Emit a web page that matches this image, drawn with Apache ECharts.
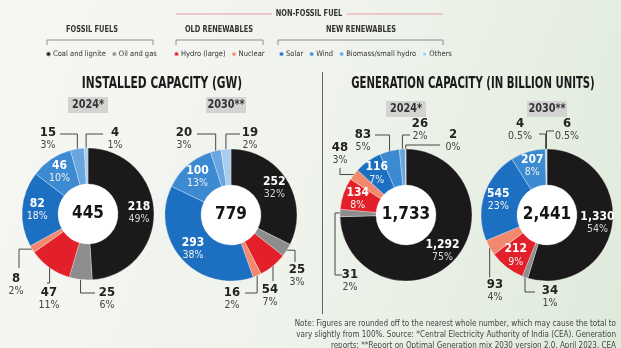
<!DOCTYPE html>
<html>
<head>
<meta charset="utf-8">
<script src="https://cdn.jsdelivr.net/npm/echarts@6/dist/echarts.min.js"></script>
<style>
    html, body { margin: 0; padding: 0; }
    #chart { width: 621px; height: 348px; background: linear-gradient(110deg, #f7f7f4 0%, #eff3ec 50%, #dfeadb 100%); }
</style>
</head>
<body>
<div id="chart"></div>
<script>
    // categories, in clockwise order from 12 o'clock
    const categories = ['Coal and lignite', 'Oil and gas', 'Hydro (large)', 'Nuclear', 'Solar', 'Wind', 'Biomass/small hydro', 'Others'];

    const installed2024 = [218, 25, 47, 8, 82, 46, 15, 4];
    const installed2024Pct = ['49%', '6%', '11%', '2%', '18%', '10%', '3%', '1%'];
    const installed2030 = [252, 25, 54, 16, 293, 100, 20, 19];
    const installed2030Pct = ['32%', '3%', '7%', '2%', '38%', '13%', '3%', '2%'];
    const generation2024 = [1292, 31, 134, 48, 116, 83, 26, 2];
    const generation2024Pct = ['75%', '2%', '8%', '3%', '7%', '5%', '2%', '0%'];
    const generation2030 = [1330, 34, 212, 93, 545, 207, 4, 6];
    const generation2030Pct = ['54%', '1%', '9%', '4%', '23%', '8%', '0.5%', '0.5%'];

    const totals = ['445', '779', '1,733', '2,441'];
    const years = ['2024*', '2030**', '2024*', '2030**'];

    const colors = ['#1b1919', '#8d8d8d', '#e3202a', '#f2896f', '#1d6fc2', '#3b8ad2', '#69a6df', '#a9cdee'];
    const F = "'DejaVu Sans Condensed',sans-serif";

    // where the small segments put their labels (relative to the donut centre)
    // l = label centre, e = end of leader, r = route of the leader
    const spots = [
        {
            1: {l: [19, 85], e: [7, 79], r: 'vh'},
            2: {l: [-39, 85], e: [-41, 69], r: 'vh'},
            3: {l: [-72, 71], e: [-69, 54], r: 'hv'},
            6: {l: [-40, -75], e: [-28, -80], r: 'vh'},
            7: {l: [27, -75], e: [15, -80], r: 'vh'}
        },
        {
            1: {l: [66, 61], e: [64, 47], r: 'hv'},
            2: {l: [39, 81], e: [42, 66], r: 'vh'},
            3: {l: [1, 84], e: [14, 78], r: 'vh'},
            6: {l: [-47, -76], e: [-34, -81], r: 'vh'},
            7: {l: [19, -76], e: [9, -81], r: 'vh'}
        },
        {
            1: {l: [-56, 66], e: [-64, 60], r: 'hvh', k: -71},
            3: {l: [-66, -61], e: [-66, -47], r: 'hv'},
            5: {l: [-43, -74], e: [-31, -80], r: 'vh'},
            6: {l: [14, -85], e: [4, -80], r: 'vh'},
            7: {l: [47, -74], e: [34, -70], r: 'vh'}
        },
        {
            1: {l: [3, 82], e: [-12, 77], r: 'vh'},
            3: {l: [-52, 76], e: [-57, 62], r: 'vh'},
            6: {l: [-27, -85], e: [-8, -81], r: 'vh'},
            7: {l: [20, -85], e: [7, -84], r: 'vh'}
        }
    ];

    const centers = [[88, 214], [231, 215], [406, 215], [547, 215]];
    const values = [installed2024, installed2030, generation2024, generation2030];
    const pcts = [installed2024Pct, installed2030Pct, generation2024Pct, generation2030Pct];

    function makeLayout (center, spot) {
        return function (params) {
            const s = spot[params.dataIndex];
            if (!s || !params.labelLinePoints) {
                return {};
            }
            const a = params.labelLinePoints[0];
            const end = [center[0] + s.e[0], center[1] + s.e[1]];
            let pts;
            if (s.r === 'vh') {
                pts = [a, [a[0], end[1]], end];
            } else if (s.r === 'hv') {
                pts = [a, [end[0], a[1]], end];
            } else {
                pts = [a, [center[0] + s.k, a[1]], [center[0] + s.k, end[1]], end];
            }
            return {
                x: center[0] + s.l[0],
                y: center[1] + s.l[1],
                align: 'center',
                verticalAlign: 'middle',
                labelLinePoints: pts
            };
        };
    }

    const series = [];
    const graphics = [];

    centers.forEach(function (c, k) {
        // white hole + total
        series.push({
            type: 'pie',
            center: c,
            radius: [0, 31],
            silent: true,
            z: 1,
            label: {
                show: true,
                position: 'center',
                formatter: totals[k],
                fontFamily: F,
                fontWeight: 'bold',
                fontSize: 17,
                color: '#151515'
            },
            labelLine: {show: false},
            emphasis: {disabled: true},
            data: [{value: 1, name: 'total' + k, itemStyle: {color: '#ffffff'}}]
        });

        const data = categories.map(function (name, i) {
            const outside = !!spots[k][i];
            return {
                name: name,
                value: values[k][i],
                itemStyle: {color: colors[i]},
                label: {
                    position: outside ? 'outside' : 'inside',
                    formatter: '{v|' + values[k][i].toLocaleString('en-US') + '}\n{p|' + pcts[k][i] + '}',
                    rich: outside ? {
                        v: {fontFamily: F, fontWeight: 'bold', fontSize: 13, color: '#222', lineHeight: 12, align: 'center'},
                        p: {fontFamily: F, fontSize: 10.5, color: '#444', lineHeight: 12, align: 'center'}
                    } : {
                        v: {fontFamily: F, fontWeight: 'bold', fontSize: 12, color: '#ffffff', lineHeight: 13, align: 'center'},
                        p: {fontFamily: F, fontSize: 10.5, color: i === 0 ? '#d8d8d8' : '#f0f0f0', lineHeight: 12, align: 'center'}
                    }
                },
                labelLine: {show: outside}
            };
        });

        series.push({
            type: 'pie',
            center: c,
            radius: [30, 66],
            startAngle: 90,
            clockwise: true,
            avoidLabelOverlap: false,
            silent: true,
            z: 2,
            itemStyle: {borderColor: 'rgba(255,255,255,0.6)', borderWidth: 0.5},
            label: {show: true},
            labelLine: {show: true, length: 4, length2: 4, lineStyle: {color: '#333', width: 0.9}},
            labelLayout: makeLayout(c, spots[k]),
            data: data
        });

        // year tag
        const tagY = k < 2 ? 97 : 101;
        const tagX = c[0] - (k === 1 ? 5 : 0);
        graphics.push({
            type: 'rect',
            shape: {x: tagX - 20, y: tagY, width: 40, height: 16},
            style: {fill: '#d3d3d1'}
        });
        graphics.push({
            type: 'text',
            x: tagX,
            y: tagY + 8,
            scaleX: 0.9,
            style: {text: years[k], fontFamily: F, fontWeight: 'bold', fontSize: 12, fill: '#333', align: 'center', verticalAlign: 'middle'}
        });
    });

    // header
    const headTexts = [
        ['NON-FOSSIL FUEL', 309, 14],
        ['FOSSIL FUELS', 92, 30],
        ['OLD RENEWABLES', 219, 30],
        ['NEW RENEWABLES', 361, 30]
    ];
    headTexts.forEach(function (h) {
        graphics.push({
            type: 'text', x: h[1], y: h[2], scaleX: 0.82,
            style: {text: h[0], fontFamily: F, fontWeight: 'bold', fontSize: 9, fill: '#333', align: 'center', verticalAlign: 'middle'}
        });
    });
    graphics.push({type: 'line', shape: {x1: 176, y1: 14, x2: 272, y2: 14}, style: {stroke: '#e59ba4', lineWidth: 1}});
    graphics.push({type: 'line', shape: {x1: 347, y1: 14, x2: 443, y2: 14}, style: {stroke: '#e59ba4', lineWidth: 1}});
    [[47, 153], [176, 263], [278, 443]].forEach(function (b) {
        graphics.push({
            type: 'polyline',
            shape: {points: [[b[0], 45], [b[0], 40], [b[1], 40], [b[1], 45]]},
            style: {stroke: '#777', lineWidth: 0.8, fill: null}
        });
    });

    // titles
    graphics.push({
        type: 'text', x: 162, y: 84, scaleX: 0.79,
        style: {text: 'INSTALLED CAPACITY (GW)', fontFamily: F, fontWeight: 'bold', fontSize: 15, fill: '#1a1a1a', align: 'center', verticalAlign: 'middle'}
    });
    graphics.push({
        type: 'text', x: 473, y: 84, scaleX: 0.75,
        style: {text: 'GENERATION CAPACITY (IN BILLION UNITS)', fontFamily: F, fontWeight: 'bold', fontSize: 15, fill: '#1a1a1a', align: 'center', verticalAlign: 'middle'}
    });

    // divider
    graphics.push({type: 'line', shape: {x1: 322.5, y1: 72, x2: 322.5, y2: 314}, style: {stroke: '#666', lineWidth: 1}});

    // footnote
    const notes = [
        'Note: Figures are rounded off to the nearest whole number, which may cause the total to',
        'vary slightly from 100%. Source: *Central Electricity Authority of India (CEA). Generation',
        'reports; **Report on Optimal Generation mix 2030 version 2.0, April 2023, CEA'
    ];
    notes.forEach(function (t, i) {
        graphics.push({
            type: 'text', x: 616, y: 324 + i * 11,
            style: {text: t, fontFamily: F, fontSize: 8, fill: '#444', align: 'right', verticalAlign: 'middle'}
        });
    });

    const legendBase = {
        orient: 'horizontal',
        top: 50,
        padding: 0,
        icon: 'circle',
        itemWidth: 5,
        itemHeight: 5,
        itemGap: 5,
        selectedMode: false,
        textStyle: {fontFamily: F, fontSize: 7.5, color: '#333', padding: [0, 0, 0, -3]}
    };

    const option = {
        animation: false,
        legend: [
            Object.assign({}, legendBase, {left: 45, data: categories.slice(0, 2)}),
            Object.assign({}, legendBase, {left: 173, data: categories.slice(2, 4)}),
            Object.assign({}, legendBase, {left: 278, data: categories.slice(4)})
        ],
        graphic: graphics,
        series: series
    };

    const chart = echarts.init(document.getElementById('chart'));
    chart.setOption(option);
</script>
</body>
</html>
